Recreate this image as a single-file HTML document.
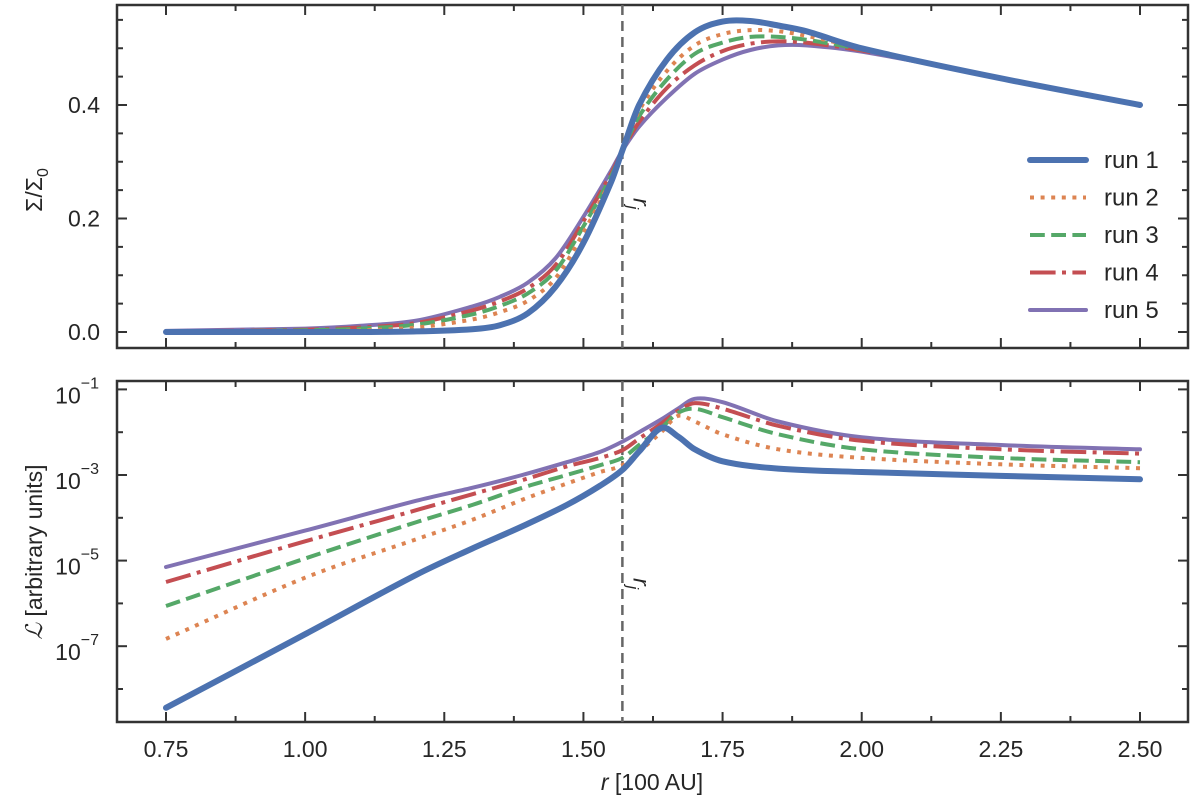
<!DOCTYPE html>
<html><head><meta charset="utf-8"><style>
html,body{margin:0;padding:0;background:#fff}
svg{display:block}
text{font-family:"Liberation Sans",sans-serif;fill:#262626}
</style></head><body>
<svg id="chart" width="1200" height="811" xmlns="http://www.w3.org/2000/svg"></svg>
<script>
// ---- data ----
const topR = [0.75,1.0,1.1,1.2,1.3,1.35,1.4,1.45,1.5,1.55,1.57,1.6,1.65,1.7,1.75,1.8,1.85,1.9,2.0,2.25,2.5];
const topRun1 = [0,0,0,0.001,0.005,0.012,0.033,0.08,0.157,0.265,0.32,0.40,0.48,0.528,0.547,0.548,0.54,0.53,0.50,0.447,0.40];
const topRun2 = [0,0.001,0.003,0.008,0.022,0.035,0.055,0.095,0.175,0.27,0.32,0.39,0.46,0.505,0.525,0.532,0.53,0.522,0.50,0.447,0.40];
const topRun3 = [0.001,0.003,0.006,0.013,0.031,0.046,0.068,0.108,0.186,0.275,0.32,0.38,0.445,0.49,0.51,0.52,0.52,0.515,0.498,0.447,0.40];
const topRun4 = [0.001,0.004,0.008,0.016,0.038,0.054,0.077,0.118,0.195,0.28,0.32,0.37,0.43,0.47,0.495,0.508,0.512,0.51,0.496,0.448,0.40];
const topRun5 = [0.002,0.006,0.011,0.02,0.045,0.062,0.087,0.13,0.203,0.285,0.32,0.362,0.413,0.455,0.48,0.497,0.505,0.505,0.494,0.448,0.40];
const botR = [0.75,1.0,1.2,1.3,1.39,1.47,1.53,1.57,1.6,1.64,1.67,1.7,1.75,1.85,2.0,2.25,2.5];
// log10 of luminosity (arbitrary units)
const botRun1Log = [-8.44,-6.72,-5.33,-4.72,-4.2,-3.7,-3.25,-2.88,-2.45,-1.9,-2.1,-2.4,-2.68,-2.85,-2.93,-3.02,-3.1];
const botRun2Log = [-6.83,-5.4,-4.5,-4.05,-3.58,-3.2,-2.93,-2.77,-2.45,-2.0,-1.62,-1.75,-2.05,-2.4,-2.6,-2.75,-2.84];
const botRun3Log = [-6.06,-4.95,-4.1,-3.7,-3.3,-3.0,-2.77,-2.6,-2.3,-1.9,-1.55,-1.45,-1.65,-2.05,-2.4,-2.6,-2.7];
const botRun4Log = [-5.5,-4.55,-3.82,-3.45,-3.12,-2.8,-2.6,-2.42,-2.15,-1.8,-1.5,-1.32,-1.45,-1.85,-2.2,-2.4,-2.5];
const botRun5Log = [-5.15,-4.3,-3.6,-3.3,-3.0,-2.7,-2.46,-2.22,-2.0,-1.7,-1.45,-1.22,-1.3,-1.75,-2.12,-2.3,-2.4];
const xTicks = [0.75,1.00,1.25,1.50,1.75,2.00,2.25,2.50];
const xTickLabels = ["0.75","1.00","1.25","1.50","1.75","2.00","2.25","2.50"];
const topYTicks = [0.0,0.2,0.4];
const topYTickLabels = ["0.0","0.2","0.4"];
const botYExp = [-1,-3,-5,-7];
const runNames = ["run 1","run 2","run 3","run 4","run 5"];
const rj = 1.57;

// ---- layout ----
const NS="http://www.w3.org/2000/svg";
const svg=document.getElementById('chart');
const L=117,R=1188,T1=5,B1=348,T2=381,B2=722;
const xS=r=>166+(r-0.75)*(1140-166)/1.75;
const yTop=v=>332-v*567.5;
const yBotLog=lg=>475-(lg+3)*42.8;
const colors=["#4C72B0","#DD8452","#55A868","#C44E52","#8172B3"];
const widths=[6,4,4,4,4];
const dashes=["","4,6.6","14.8,6.4","25.6,6.4,4,6.4",""];
const caps=["round","butt","butt","butt","round"];

function el(tag,attrs,parent){const e=document.createElementNS(NS,tag);for(const k in attrs)e.setAttribute(k,attrs[k]);(parent||svg).appendChild(e);return e;}

function smoothPath(xs,ys,fx,fy){
  const n=xs.length,px=xs.map(fx),py=ys.map(fy);
  const m=[];
  for(let i=0;i<n;i++){
    const a=Math.max(0,i-1),b=Math.min(n-1,i+1);
    m.push((py[b]-py[a])/(px[b]-px[a]));
  }
  let s="M"+px[0].toFixed(1)+","+py[0].toFixed(1);
  for(let i=0;i<n-1;i++){
    const h=px[i+1]-px[i];
    s+=" C"+(px[i]+h/3).toFixed(1)+","+(py[i]+m[i]*h/3).toFixed(1)+" "+(px[i+1]-h/3).toFixed(1)+","+(py[i+1]-m[i+1]*h/3).toFixed(1)+" "+px[i+1].toFixed(1)+","+py[i+1].toFixed(1);
  }
  return s;
}

function frame(T,B,name){
  const g=el('g',{});
  
  
  el('rect',{x:L,y:T,width:R-L,height:B-T,fill:'none',stroke:'#333',"stroke-width":2.5},g);
  for(let k=0;k<=16;k++){
    const r=0.625+k*0.125;
    const x=xS(r);if(x<L||x>R)continue;
    const maj=xTicks.some(t=>Math.abs(t-r)<1e-6);
    const len=maj?10:6;
    el('line',{x1:x,y1:B,x2:x,y2:B-len,stroke:'#333',"stroke-width":2},g);
    el('line',{x1:x,y1:T,x2:x,y2:T+len,stroke:'#333',"stroke-width":2},g);
  }
  return g;
}

// top panel
const gt=frame(T1,B1,'top');
for(let k=0;k<=11;k++){
  const v=k*0.05;
  const y=yTop(v);if(y<T1)continue;
  const maj=k%4===0;
  const len=maj?10:6;
  el('line',{x1:L,y1:y,x2:L+len,y2:y,stroke:'#333',"stroke-width":2},gt);
  el('line',{x1:R,y1:y,x2:R-len,y2:y,stroke:'#333',"stroke-width":2},gt);
}
topYTicks.forEach((v,i)=>{
  const t=el('text',{x:100,y:yTop(v)+8,"text-anchor":"end","font-size":23},gt);
  t.textContent=topYTickLabels[i];
  
  
});
const yt1=el('text',{x:42,y:190,"text-anchor":"middle","font-size":23,transform:"rotate(-90 42 190)"});
yt1.innerHTML='Σ/Σ<tspan font-size="16" dy="6">0</tspan>';



// bottom panel
const gb=frame(T2,B2,'bottom');
for(let e=-9;e<=-1;e++){
  const y=yBotLog(e);if(y<T2-1||y>B2)continue;
  const maj=botYExp.includes(e);const len=maj?10:6;
  el('line',{x1:L,y1:y,x2:L+len,y2:y,stroke:'#333',"stroke-width":2},gb);
  el('line',{x1:R,y1:y,x2:R-len,y2:y,stroke:'#333',"stroke-width":2},gb);
}
botYExp.forEach(e=>{
  const y=yBotLog(e);
  const t=el('text',{x:99,y:y+14,"text-anchor":"end","font-size":23},gb);
  t.innerHTML='10<tspan font-size="16" dy="-15">'+'\u2212'+(-e)+'</tspan>';
  
  
});
const yt2=el('text',{x:42,y:552,"text-anchor":"middle","font-size":23,transform:"rotate(-90 42 552)"});
yt2.innerHTML='<tspan font-family="Liberation Serif" font-style="italic">ℒ</tspan> [arbitrary units]';



xTicks.forEach((r,i)=>{
  const t=el('text',{x:xS(r),y:757,"text-anchor":"middle","font-size":23});
  t.textContent=xTickLabels[i];
  
  
});
const xt=el('text',{x:652,y:790,"text-anchor":"middle","font-size":23});
xt.innerHTML='<tspan font-style="italic">r</tspan> [100 AU]';



// vertical rj lines
[[T1,B1,198],[T2,B2,578]].forEach(([a,b,ly])=>{
  const ln=el('line',{x1:xS(rj),y1:a,x2:xS(rj),y2:b,stroke:'#666',"stroke-width":2.5,"stroke-dasharray":"10,6"});
  
  
  const lx=xS(rj)+11;
  const t=el('text',{x:lx,y:ly,"font-size":23,transform:"rotate(90 "+lx+" "+ly+")"});
  t.innerHTML='<tspan font-style="italic">r</tspan><tspan font-style="italic" font-size="16" dy="6">j</tspan>';
  
  
});

// series
const topSeries=[topRun1,topRun2,topRun3,topRun4,topRun5];
const botSeries=[botRun1Log,botRun2Log,botRun3Log,botRun4Log,botRun5Log];
for(let i=4;i>=0;i--){
  const p=el('path',{d:smoothPath(topR,topSeries[i],xS,yTop),fill:'none',stroke:colors[i],"stroke-width":widths[i],"stroke-dasharray":dashes[i],"stroke-linecap":caps[i]});
  
  
}
for(let i=4;i>=0;i--){
  const p=el('path',{d:smoothPath(botR,botSeries[i],xS,yBotLog),fill:'none',stroke:colors[i],"stroke-width":widths[i],"stroke-dasharray":dashes[i],"stroke-linecap":caps[i]});
  
  
}

// legend
const lg=el('g',{});


const legY=[160,197.5,235,272.5,310];
runNames.forEach((n,i)=>{
  const g=el('g',{},lg);
  
  
  el('line',{x1:1030,y1:legY[i],x2:1086,y2:legY[i],stroke:colors[i],"stroke-width":widths[i],"stroke-dasharray":dashes[i],"stroke-linecap":caps[i]},g);
  const t=el('text',{x:1104,y:legY[i]+8,"font-size":24},g);
  t.textContent=n;
});
</script>
</body></html>
